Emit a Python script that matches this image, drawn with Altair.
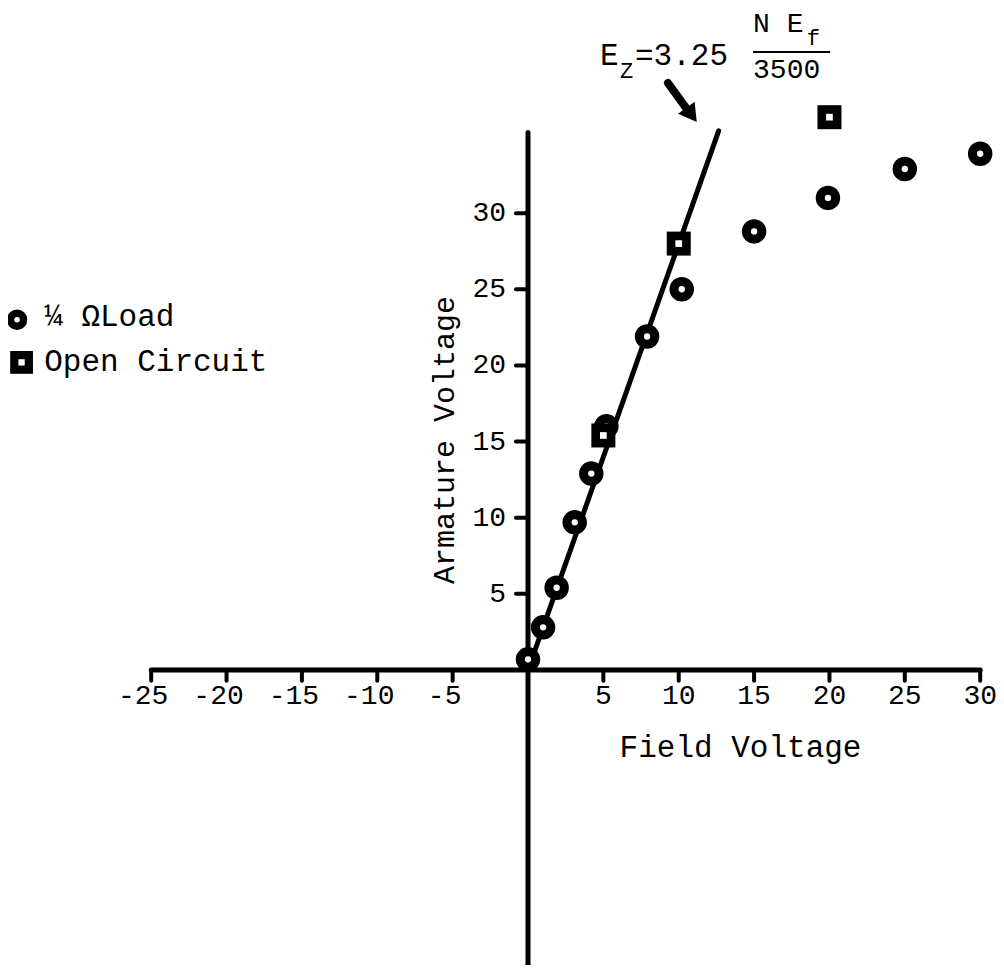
import altair as alt
import pandas as pd

# ---- data ----
load_x = [0, 1.0, 1.9, 3.1, 4.2, 5.2, 7.9, 10.2, 15, 19.9, 25, 30]
load_y = [0.7, 2.8, 5.4, 9.7, 12.9, 16.0, 21.9, 25.0, 28.8, 31.0, 32.9, 33.9]

oc_x = [5.0, 10.0, 20.0]
oc_y = [15.4, 28.0, 36.3]

fit_x = [0, 12.65]
fit_y = [0, 35.4]

x_ticks = [-25, -20, -15, -10, -5, 5, 10, 15, 20, 25, 30]
y_ticks = [5, 10, 15, 20, 25, 30]

x_axis_range = [-25, 30]
y_axis_range = [-19.4, 35.3]

XD = [-34.5, 31.05]
YD = [-19.37, 43.47]
FONT = "Liberation Mono"


def X(f):
    return alt.X(f, type="quantitative", scale=alt.Scale(domain=XD, nice=False, zero=False), axis=None)


def Y(f):
    return alt.Y(f, type="quantitative", scale=alt.Scale(domain=YD, nice=False, zero=False), axis=None)


load_df = pd.DataFrame({"x": load_x, "y": load_y})
oc_df = pd.DataFrame({"x": oc_x, "y": oc_y})
fit_df = pd.DataFrame({"x": fit_x, "y": fit_y})

# axes drawn as rules
axes_df = pd.DataFrame({
    "x": [x_axis_range[0], 0],
    "x2": [x_axis_range[1], 0],
    "y": [0, y_axis_range[0]],
    "y2": [0, y_axis_range[1]],
})
axes = alt.Chart(axes_df).mark_rule(color="black", strokeWidth=5, strokeCap="round").encode(
    x=X("x"), x2=alt.X2("x2"), y=Y("y"), y2=alt.Y2("y2")
)

xt_df = pd.DataFrame({"x": x_ticks, "y": [0] * len(x_ticks), "y2": [-0.7] * len(x_ticks)})
xticks = alt.Chart(xt_df).mark_rule(color="black", strokeWidth=4, strokeCap="round").encode(
    x=X("x"), y=Y("y"), y2=alt.Y2("y2")
)
yt_df = pd.DataFrame({"y": y_ticks, "x": [0] * len(y_ticks), "x2": [-0.8] * len(y_ticks)})
yticks = alt.Chart(yt_df).mark_rule(color="black", strokeWidth=4, strokeCap="round").encode(
    y=Y("y"), x=X("x"), x2=alt.X2("x2")
)

neg_df = pd.DataFrame({"x": [v for v in x_ticks if v < 0], "y": 0})
neg_df["t"] = neg_df["x"].astype(str)
pos_df = pd.DataFrame({"x": [v for v in x_ticks if v > 0], "y": 0})
pos_df["t"] = pos_df["x"].astype(str)
xlab_neg = alt.Chart(neg_df).mark_text(font=FONT, fontSize=28, align="center", baseline="middle",
                                       dy=26, dx=-8, color="black").encode(x=X("x"), y=Y("y"), text="t:N")
xlab_pos = alt.Chart(pos_df).mark_text(font=FONT, fontSize=28, align="center", baseline="middle",
                                       dy=26, color="black").encode(x=X("x"), y=Y("y"), text="t:N")
ylab_df = pd.DataFrame({"y": y_ticks, "x": 0})
ylab_df["t"] = ylab_df["y"].astype(str)
ylab = alt.Chart(ylab_df).mark_text(font=FONT, fontSize=28, align="right", baseline="middle",
                                    dx=-22, color="black").encode(x=X("x"), y=Y("y"), text="t:N")

# axis titles
xtitle = alt.Chart(pd.DataFrame({"x": [14.1], "y": [-5.1], "t": ["Field Voltage"]})).mark_text(
    font=FONT, fontSize=31, align="center", baseline="middle", color="black"
).encode(x=X("x"), y=Y("y"), text="t:N")
ytitle = alt.Chart(pd.DataFrame({"x": [-5.5], "y": [15.1], "t": ["Armature Voltage"]})).mark_text(
    font=FONT, fontSize=30, align="center", baseline="middle", angle=270, color="black"
).encode(x=X("x"), y=Y("y"), text="t:N")

# fitted line
fit = alt.Chart(fit_df).mark_line(color="black", strokeWidth=5, strokeCap="round").encode(x=X("x"), y=Y("y"))

# markers
load_outer = alt.Chart(load_df).mark_point(shape="circle", filled=True, size=600, color="black", opacity=1).encode(
    x=X("x"), y=Y("y"))
load_inner = alt.Chart(load_df).mark_point(shape="circle", filled=True, size=40, color="white", opacity=1).encode(
    x=X("x"), y=Y("y"))
oc_outer = alt.Chart(oc_df).mark_point(shape="square", filled=True, size=576, color="black", opacity=1).encode(
    x=X("x"), y=Y("y"))
oc_inner = alt.Chart(oc_df).mark_point(shape="square", filled=True, size=45, color="white", opacity=1).encode(
    x=X("x"), y=Y("y"))

# legend
leg_c = pd.DataFrame({"x": [-33.9], "y": [23.0]})
leg_s = pd.DataFrame({"x": [-33.6], "y": [20.2]})
leg = (
    alt.Chart(leg_c).mark_point(shape="circle", filled=True, size=420, color="black", opacity=1).encode(x=X("x"), y=Y("y"))
    + alt.Chart(leg_c).mark_point(shape="circle", filled=True, size=30, color="white", opacity=1).encode(x=X("x"), y=Y("y"))
    + alt.Chart(leg_s).mark_point(shape="square", filled=True, size=520, color="black", opacity=1).encode(x=X("x"), y=Y("y"))
    + alt.Chart(leg_s).mark_point(shape="square", filled=True, size=40, color="white", opacity=1).encode(x=X("x"), y=Y("y"))
)
leg_text = alt.Chart(pd.DataFrame({
    "x": [-32.1, -32.1], "y": [23.2, 20.2], "t": ["¼ ΩLoad", "Open Circuit"]
})).mark_text(font=FONT, fontSize=31, align="left", baseline="middle", color="black").encode(
    x=X("x"), y=Y("y"), text="t:N")

# annotation  E_Z = 3.25 (N E_f)/3500
ann_big = alt.Chart(pd.DataFrame({
    "x": [4.78, 7.1], "y": [39.72, 39.72], "t": ["E", "=3.25"]
})).mark_text(font=FONT, fontSize=31, align="left", baseline="alphabetic", color="black").encode(
    x=X("x"), y=Y("y"), text="t:N")
ann_frac = alt.Chart(pd.DataFrame({
    "x": [14.93, 14.93], "y": [41.89, 38.87], "t": ["N E", "3500"]
})).mark_text(font=FONT, fontSize=28, align="left", baseline="alphabetic", color="black").encode(
    x=X("x"), y=Y("y"), text="t:N")
ann_sub = alt.Chart(pd.DataFrame({
    "x": [6.1, 18.5], "y": [38.87, 41.05], "t": ["Z", "f"]
})).mark_text(font=FONT, fontSize=22, align="left", baseline="alphabetic", color="black").encode(
    x=X("x"), y=Y("y"), text="t:N")
frac = alt.Chart(pd.DataFrame({"x": [14.93], "x2": [20.04], "y": [40.58]})).mark_rule(
    color="black", strokeWidth=2).encode(x=X("x"), x2=alt.X2("x2"), y=Y("y"))

arrow_shaft = alt.Chart(pd.DataFrame({"x": [9.29], "x2": [10.75], "y": [38.54], "y2": [36.55]})).mark_rule(
    color="black", strokeWidth=8, strokeCap="round").encode(x=X("x"), x2=alt.X2("x2"), y=Y("y"), y2=alt.Y2("y2"))
arrow_head = alt.Chart(pd.DataFrame({"x": [10.85], "y": [36.45]})).mark_point(
    shape="triangle-up", filled=True, size=420, angle=144, color="black", opacity=1).encode(x=X("x"), y=Y("y"))

chart = alt.layer(
    axes, xticks, yticks, xlab_neg, xlab_pos, ylab, xtitle, ytitle, fit,
    load_outer, load_inner, oc_outer, oc_inner, leg, leg_text,
    ann_big, ann_frac, ann_sub, frac, arrow_shaft, arrow_head
).properties(
    width=988, height=957, padding=0, autosize=alt.AutoSizeParams(type="none"), background="white"
).configure_view(stroke=None)

chart.save("out.html", embed_options={"renderer": "svg", "actions": False})
